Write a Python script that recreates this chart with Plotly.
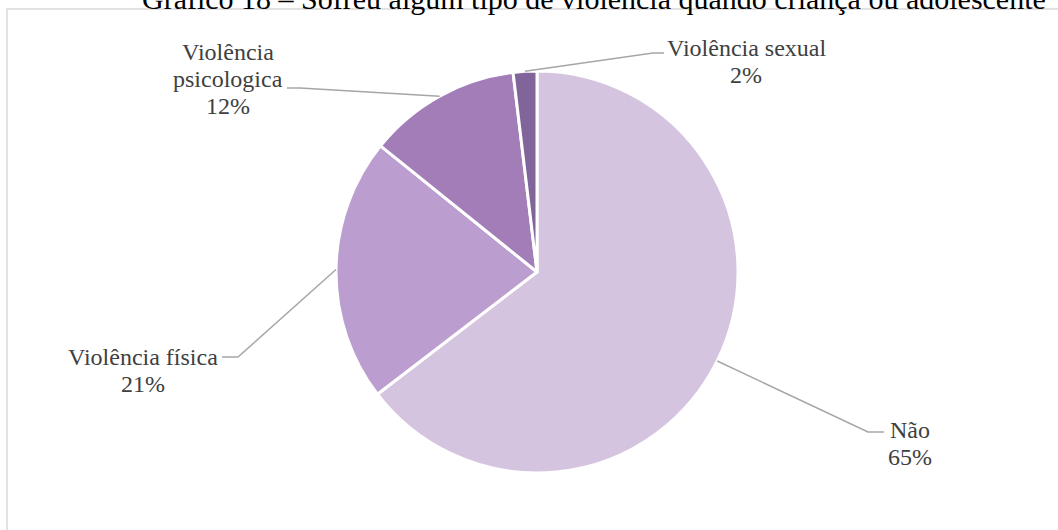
import math
import plotly.graph_objects as go

# ---- data ----
categories = ["Não", "Violência física", "Violência psicologica", "Violência sexual"]
values = [64.6, 21.2, 12.3, 1.9]
label_lines = [["Não"], ["Violência física"], ["Violência", "psicologica"], ["Violência sexual"]]
title_text = "Gráfico 18 – Sofreu algum tipo de violência quando criança ou adolescente"

# ---- styles / layout ----
W, H = 1058, 530
colors = ["#D5C4E0", "#BB9DCF", "#A27DB8", "#81649A"]
text_color = "#404040"
line_color = "#A6A6A6"
FONT = "Liberation Serif, Times New Roman, serif"
FS = 24
LINE_H = 27
cx, cy, R = 537, 272, 201  # pie centre / radius in pixels

# label placement (pixels): elbow point, end of horizontal stub, label centre
label_pos = [
    dict(elbow=(868, 432), stub=(884, 432), text=(910, 443)),
    dict(elbow=(238, 357), stub=(222, 357), text=(143, 370)),
    dict(elbow=(300, 88), stub=(287, 88), text=(228, 79)),
    dict(elbow=(653, 53), stub=(664, 53), text=(746, 61)),
]


def px(x):
    return x / W


def py(y):
    return 1 - y / H


fig = go.Figure()
fig.add_trace(go.Pie(
    labels=categories,
    values=values,
    sort=False,
    direction="clockwise",
    rotation=0,
    marker=dict(colors=colors, line=dict(color="white", width=3)),
    textinfo="none",
    hoverinfo="label+percent",
    showlegend=False,
    domain=dict(x=[px(cx - R), px(cx + R)], y=[py(cy + R), py(cy - R)]),
))

total = sum(values)
shapes = []
annotations = []
cum = 0.0
for i, v in enumerate(values):
    frac = v / total
    mid = (cum + frac / 2) * 2 * math.pi
    cum += frac
    sx = cx + R * math.sin(mid)
    sy = cy - R * math.cos(mid)
    lp = label_pos[i]
    ex, ey = lp["elbow"]
    tx, ty = lp["stub"]
    shapes.append(dict(type="path", xref="paper", yref="paper",
                       path=f"M {px(sx)} {py(sy)} L {px(ex)} {py(ey)} L {px(tx)} {py(ty)}",
                       line=dict(color=line_color, width=1.5)))
    pct = round(frac * 100)
    lines = label_lines[i] + [f"{pct}%"]
    lx, ly = lp["text"]
    n = len(lines)
    for k, t in enumerate(lines):
        yk = ly + (k - (n - 1) / 2) * LINE_H
        annotations.append(dict(x=px(lx), y=py(yk), xref="paper", yref="paper",
                                text=t, showarrow=False,
                                xanchor="center", yanchor="middle",
                                font=dict(family=FONT, size=FS, color=text_color)))

# chart-area border
shapes.append(dict(type="rect", xref="paper", yref="paper",
                   x0=px(7), x1=px(W + 5), y0=py(H + 5), y1=py(9),
                   line=dict(color="#D9D9D9", width=1.5), layer="below"))

annotations.append(dict(x=px(594), y=py(-1), xref="paper", yref="paper",
                        text=title_text, showarrow=False, xanchor="center", yanchor="middle",
                        font=dict(family=FONT, size=30, color="#000000")))

fig.update_layout(
    width=W, height=H,
    margin=dict(l=0, r=0, t=0, b=0),
    paper_bgcolor="white", plot_bgcolor="white",
    shapes=shapes, annotations=annotations,
)

fig.write_html("out.html")
